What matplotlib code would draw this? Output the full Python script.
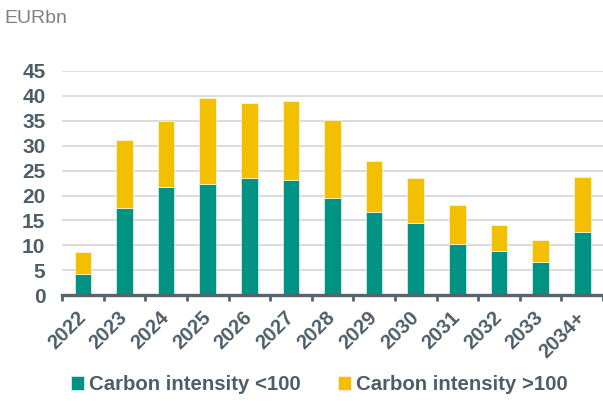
import numpy as np
import matplotlib.pyplot as plt

years = ["2022", "2023", "2024", "2025", "2026", "2027", "2028",
         "2029", "2030", "2031", "2032", "2033", "2034+"]
low_ci = [4.2, 17.5, 21.7, 22.4, 23.6, 23.1, 19.5, 16.7, 14.5, 10.3, 8.9, 6.6, 12.7]
total = [8.6, 31.1, 34.9, 39.5, 38.5, 39.0, 35.1, 26.9, 23.6, 18.0, 14.0, 11.1, 23.7]
high_ci = [round(t - l, 1) for t, l in zip(total, low_ci)]

green = "#009282"
yellow = "#F2C000"
txt = "#4E5E69"

plt.rcParams["font.family"] = ["Liberation Sans", "DejaVu Sans"]

fig = plt.figure(figsize=(6.03, 4.01), dpi=100)
ax = fig.add_axes([0.103, 0.264, 0.897, 0.559])

x = np.arange(len(years))
ax.bar(x, low_ci, width=0.4, color=green, edgecolor="white", linewidth=0.4,
       label="Carbon intensity <100", zorder=3)
ax.bar(x, high_ci, width=0.4, bottom=low_ci, color=yellow, edgecolor="white",
       linewidth=0.4, label="Carbon intensity >100", zorder=3)

ax.set_xlim(-0.5, len(years) - 0.5)
ax.set_ylim(0, 45)
ax.set_yticks(range(0, 46, 5))
ax.yaxis.grid(True, color="#D9D9D9", linewidth=1.3, zorder=0)
ax.tick_params(axis="y", length=0, pad=12, labelsize=15, labelcolor=txt)

ax.set_xticks(x)
ax.set_xticklabels(years, rotation=45, ha="right", va="center", rotation_mode="anchor")
ax.set_xticks(np.arange(-0.5, len(years)), minor=True)
ax.tick_params(axis="x", which="major", length=0, pad=14, labelsize=14.5, labelcolor=txt)
ax.tick_params(axis="x", which="minor", length=4, width=2, color="#56646E")
for lbl in ax.get_xticklabels() + ax.get_yticklabels():
    lbl.set_fontweight("bold")

for s in ["top", "right", "left"]:
    ax.spines[s].set_visible(False)
ax.spines["bottom"].set_color("#56646E")
ax.spines["bottom"].set_linewidth(2.4)
ax.spines["bottom"].set_zorder(4)

fig.text(0.008, 0.955, "EURbn", fontsize=14, color="#808080", va="center")

leg = fig.legend(loc="center", bbox_to_anchor=(0.53, 0.04), ncol=2, frameon=False,
                 handlelength=0.65, handleheight=0.65, handletextpad=0.25,
                 columnspacing=1.8, prop={"size": 14.7, "weight": "bold"})
for t in leg.get_texts():
    t.set_color(txt)

fig.savefig("out.png", dpi=100)
